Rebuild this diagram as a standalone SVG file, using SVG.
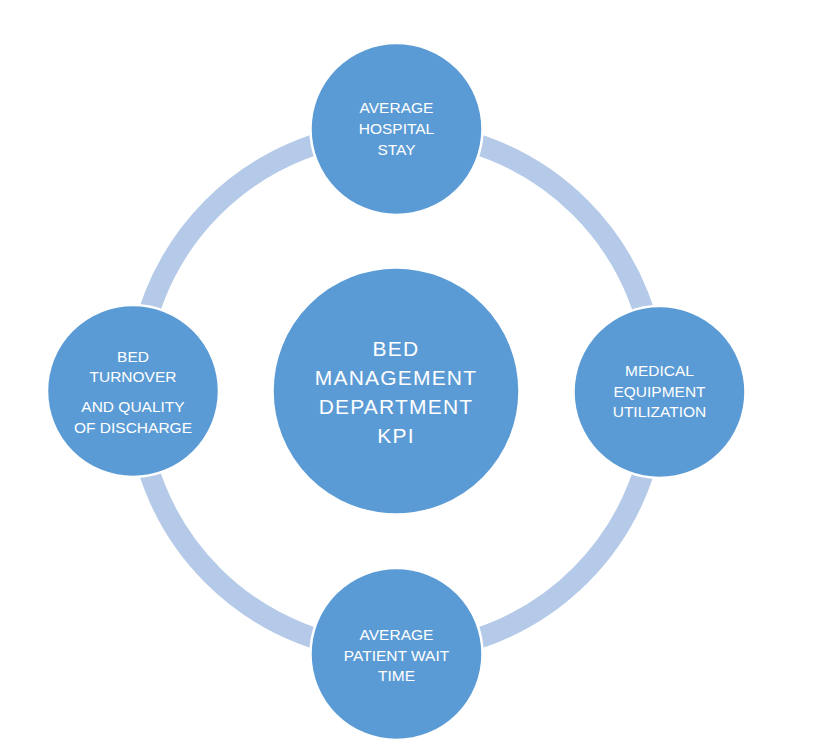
<svg xmlns="http://www.w3.org/2000/svg" width="818" height="745" viewBox="0 0 818 745">
<style>
.arc{fill:none;stroke:#B4CAE8;stroke-width:21}
.node{fill:#5B9BD5;stroke:#FFFFFF;stroke-width:2.5}
.t{font-family:"Liberation Sans",Arial,sans-serif;font-size:15.5px;fill:#FFFFFF;text-anchor:middle}
.c{font-family:"Liberation Sans",Arial,sans-serif;font-size:21px;letter-spacing:1.2px;fill:#FFFFFF;text-anchor:middle}
</style>
<rect width="818" height="745" fill="#FFFFFF"/>
<g id="connectors">
<path class="arc" d="M396.5,131.5 A260,260 0 0 1 656.5,391.5"/>
<path class="arc" d="M656.5,391.5 A260,260 0 0 1 396.5,651.5"/>
<path class="arc" d="M396.5,651.5 A260,260 0 0 1 136.5,391.5"/>
<path class="arc" d="M136.5,391.5 A260,260 0 0 1 396.5,131.5"/>
</g>
<g id="center">
<circle class="node" cx="396" cy="391" r="123.5"/>
<text class="c" x="396" y="356">BED</text>
<text class="c" x="396" y="385">MANAGEMENT</text>
<text class="c" x="396" y="414">DEPARTMENT</text>
<text class="c" x="396" y="442.5">KPI</text>
</g>
<g id="top">
<circle class="node" cx="396.5" cy="129" r="86"/>
<text class="t" x="396.5" y="113">AVERAGE</text>
<text class="t" x="396.5" y="134">HOSPITAL</text>
<text class="t" x="396.5" y="154.5">STAY</text>
</g>
<g id="right">
<circle class="node" cx="659.5" cy="392" r="86"/>
<text class="t" x="659.5" y="376">MEDICAL</text>
<text class="t" x="659.5" y="396.7">EQUIPMENT</text>
<text class="t" x="659.5" y="417.3">UTILIZATION</text>
</g>
<g id="bottom">
<circle class="node" cx="396.5" cy="654" r="86"/>
<text class="t" x="396.5" y="640">AVERAGE</text>
<text class="t" x="396.5" y="660.7">PATIENT WAIT</text>
<text class="t" x="396.5" y="681">TIME</text>
</g>
<g id="left">
<circle class="node" cx="133" cy="391" r="86"/>
<text class="t" x="133" y="361.7">BED</text>
<text class="t" x="133" y="382.3">TURNOVER</text>
<text class="t" x="133" y="412.3">AND QUALITY</text>
<text class="t" x="133" y="432.7">OF DISCHARGE</text>
</g>
</svg>
